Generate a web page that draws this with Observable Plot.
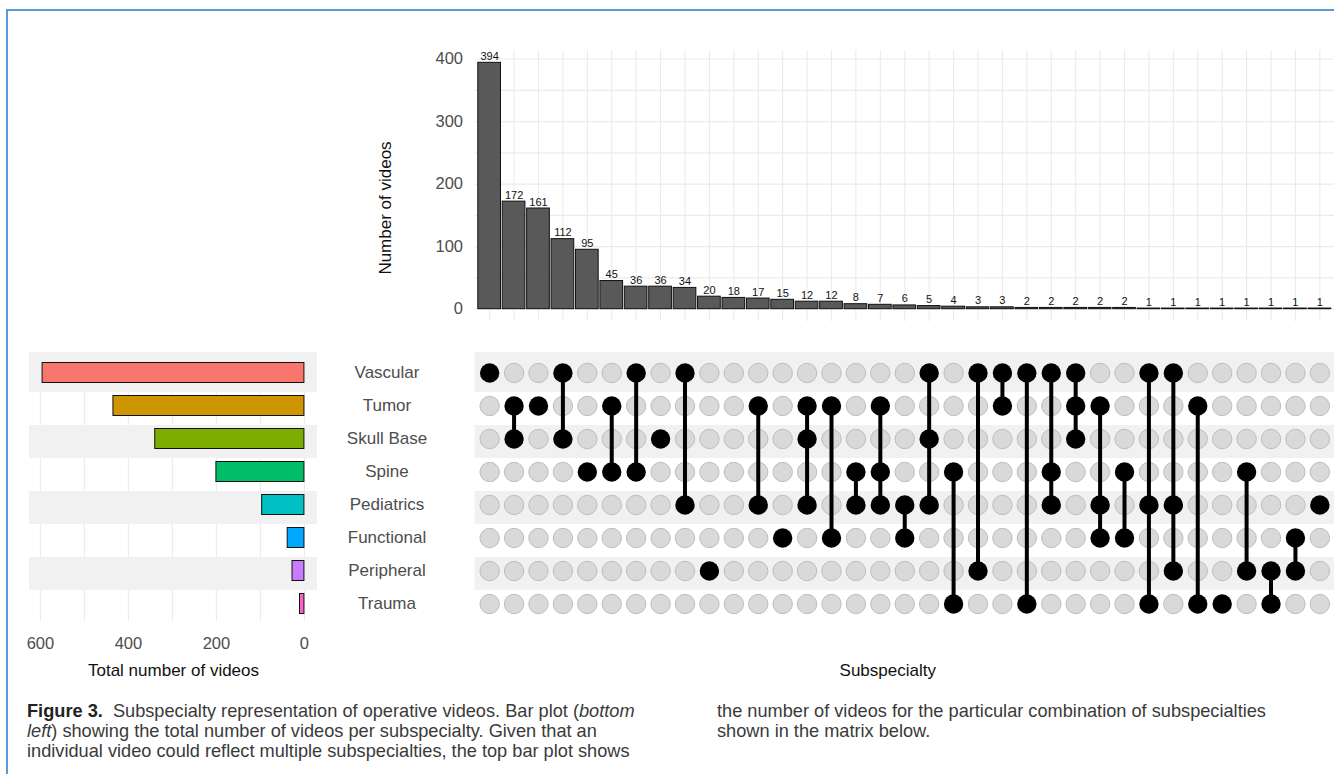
<!DOCTYPE html>
<html><head><meta charset="utf-8">
<script src="https://cdn.jsdelivr.net/npm/d3@7"></script>
<script src="https://cdn.jsdelivr.net/npm/@observablehq/plot@0.6"></script>
<style>
body{margin:0;background:#fff;}
#wrap{position:relative;width:1334px;height:774px;overflow:hidden;font-family:"Liberation Sans",Arial,Helvetica,sans-serif;}
#frame{position:absolute;left:6px;top:9px;width:1400px;height:800px;border-left:2.5px solid #5b9bd5;border-top:2.5px solid #5b9bd5;}
.p{position:absolute;}
.cap{position:absolute;top:701px;font-size:18.2px;line-height:20px;color:#3a3a3a;white-space:nowrap;}
.cap b{color:#222;}
</style></head><body>
<div id="wrap"><div id="frame"></div>
<div id="top" class="p" style="left:340px;top:40px"></div>
<div id="left" class="p" style="left:0;top:340px"></div>
<div id="matrix" class="p" style="left:340px;top:340px"></div>
<div class="cap" style="left:27px"><b>Figure 3.</b>&nbsp; Subspecialty representation of operative videos. Bar plot (<i>bottom</i><br><i>left</i>) showing the total number of videos per subspecialty. Given that an<br>individual video could reflect multiple subspecialties, the top bar plot shows</div>
<div class="cap" style="left:717px">the number of videos for the particular combination of subspecialties<br>shown in the matrix below.</div>
</div>
<script>
// ---- data ----
const sets = ["Vascular","Tumor","Skull Base","Spine","Pediatrics","Functional","Peripheral","Trauma"];
const setTotals = [595, 434, 339, 200, 96, 38, 27, 10];
const setColors = ["#F8766D","#CD9600","#7CAE00","#00BE67","#00BFC4","#00A9FF","#C77CFF","#FF61CC"];
const counts = [394,172,161,112,95,45,36,36,34,20,18,17,15,12,12,8,7,6,5,4,3,3,2,2,2,2,2,1,1,1,1,1,1,1,1];
const combos = [
 ["Vascular"],
 ["Tumor","Skull Base"],
 ["Tumor"],
 ["Vascular","Skull Base"],
 ["Spine"],
 ["Tumor","Spine"],
 ["Vascular","Spine"],
 ["Skull Base"],
 ["Vascular","Pediatrics"],
 ["Peripheral"],
 [],
 ["Tumor","Pediatrics"],
 ["Functional"],
 ["Tumor","Skull Base","Pediatrics"],
 ["Tumor","Functional"],
 ["Spine","Pediatrics"],
 ["Tumor","Spine","Pediatrics"],
 ["Pediatrics","Functional"],
 ["Vascular","Skull Base","Pediatrics"],
 ["Spine","Trauma"],
 ["Vascular","Peripheral"],
 ["Vascular","Tumor"],
 ["Vascular","Trauma"],
 ["Vascular","Spine","Pediatrics"],
 ["Vascular","Tumor","Skull Base"],
 ["Tumor","Pediatrics","Functional"],
 ["Spine","Functional"],
 ["Vascular","Pediatrics","Trauma"],
 ["Vascular","Pediatrics","Peripheral"],
 ["Tumor","Trauma"],
 ["Trauma"],
 ["Spine","Peripheral"],
 ["Peripheral","Trauma"],
 ["Functional","Peripheral"],
 ["Pediatrics"]
];
const topTicks = [0, 100, 200, 300, 400];
const leftTicks = [0, 200, 400, 600];

// ---- derived tables ----
const FONT = '"Liberation Sans", Arial, Helvetica, sans-serif';
const style = {fontFamily: FONT, color: "#4d4d4d", background: "transparent", overflow: "visible"};
const idx = d3.range(counts.length);
const nCols = counts.length;
const xDomain = [-0.6, nCols - 1 + 0.6];
const rowY = {domain: [-0.621, sets.length - 0.47], range: [12, 281]};
const bandRows = d3.range(0, sets.length, 2);
const bandMark = () => Plot.rect(bandRows, {y1: i => i === 0 ? rowY.domain[0] : i - 0.41, y2: i => i + 0.59, fill: "#f1f1f1"});

const cells = [];
idx.forEach(c => sets.forEach((s, r) => cells.push({c, r, on: combos[c].includes(s)})));
const links = idx.filter(c => combos[c].length > 1).map(c => {
  const rs = combos[c].map(s => sets.indexOf(s));
  return {c, y1: d3.min(rs), y2: d3.max(rs)};
});

// ---- top bar chart ----
const topPlot = Plot.plot({
  width: 994, height: 300, marginLeft: 134.5, marginRight: 0, marginTop: 10, marginBottom: 19,
  style,
  x: {type: "linear", domain: xDomain, axis: null},
  y: {domain: [-19.7, 413.7]},
  marks: [
    Plot.ruleY(d3.range(0, 401, 50), {stroke: "#ebebeb", strokeWidth: 1.1}),
    Plot.ruleX(idx, {x: d => d, stroke: "#ebebeb", strokeWidth: 1.1}),
    Plot.rect(idx, {x1: i => i - 0.465, x2: i => i + 0.465, y1: 0, y2: i => counts[i], fill: "#595959", stroke: "#111", strokeWidth: 1}),
    Plot.text(idx, {x: i => i, y: i => counts[i], text: i => String(counts[i]), dy: -3, lineAnchor: "bottom", fontSize: 11, fill: "#111"}),
    Plot.axisY(topTicks, {tickSize: 0, tickPadding: 12, fontSize: 16.5, label: null}),
    Plot.text(["Number of videos"], {frameAnchor: "left", textAnchor: "middle", dx: -89.5, dy: 22, rotate: -90, fontSize: 17, fill: "#111"})
  ]
});
document.getElementById("top").appendChild(topPlot);

// ---- matrix ----
const matrixPlot = Plot.plot({
  width: 994, height: 350, marginLeft: 134.5, marginRight: 0, marginTop: 12, marginBottom: 69,
  style,
  x: {type: "linear", domain: xDomain, axis: null},
  y: {...rowY, axis: null},
  marks: [
    bandMark(),
    Plot.dot(cells.filter(d => !d.on), {x: "c", y: "r", r: 9.7, fill: "#d9d9d9", stroke: "#bdbdbd", strokeWidth: 1}),
    Plot.ruleX(links, {x: "c", y1: "y1", y2: "y2", stroke: "#000", strokeWidth: 4}),
    Plot.dot(cells.filter(d => d.on), {x: "c", y: "r", r: 9.7, fill: "#000"}),
    Plot.text(sets, {y: (d, i) => i, text: d => d, frameAnchor: "left", textAnchor: "middle", dx: -88, fontSize: 17, fill: "#4d4d4d"}),
    Plot.text(["Subspecialty"], {frameAnchor: "bottom", dx: -17, dy: 54, fontSize: 17, fill: "#111"})
  ]
});
document.getElementById("matrix").appendChild(matrixPlot);

// ---- left bar chart ----
const leftPlot = Plot.plot({
  width: 340, height: 350, marginLeft: 29, marginRight: 23, marginTop: 12, marginBottom: 69,
  style,
  x: {domain: [624.75, -29.75]},
  y: {...rowY, axis: null},
  color: {type: "identity"},
  marks: [
    Plot.ruleX(d3.range(0, 601, 100), {stroke: "#ebebeb", strokeWidth: 1.1}),
    bandMark(),
    Plot.rect(sets, {x1: 0, x2: (d, i) => setTotals[i], y1: (d, i) => i - 0.303, y2: (d, i) => i + 0.303, fill: (d, i) => setColors[i], stroke: "#111", strokeWidth: 1}),
    Plot.axisX(leftTicks, {tickSize: 0, tickPadding: 16, fontSize: 16.5, label: null}),
    Plot.text(["Total number of videos"], {frameAnchor: "bottom", dy: 54, fontSize: 17, fill: "#111"})
  ]
});
document.getElementById("left").appendChild(leftPlot);
</script>
</body></html>
